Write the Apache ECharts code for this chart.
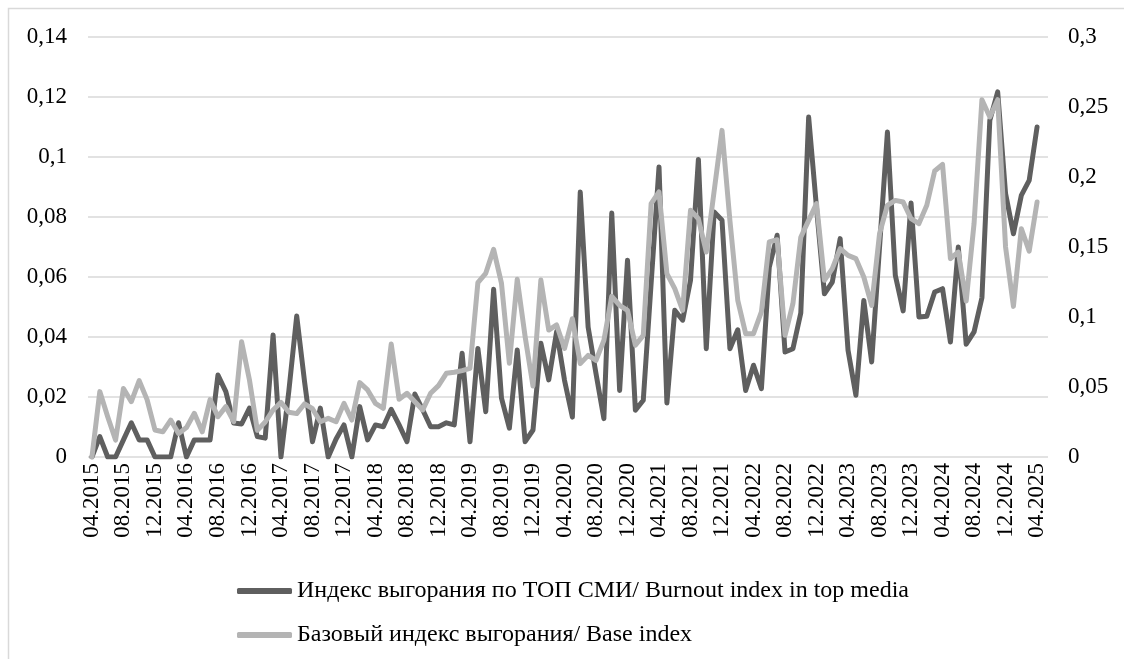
<!DOCTYPE html>
<html>
<head>
<meta charset="utf-8">
<script src="https://cdn.jsdelivr.net/npm/echarts@6/dist/echarts.min.js"></script>
<style>
html,body{margin:0;padding:0;background:#fff;}
#chart{width:1124px;height:659px;}
</style>
</head>
<body>
<div id="chart"></div>
<script>
// Months 04.2015 .. 04.2025
const categories = [];
for (let y = 2015, m = 4; y < 2025 || (y === 2025 && m <= 4); ) {
  categories.push((m < 10 ? '0' + m : '' + m) + '.' + y);
  m++; if (m > 12) { m = 1; y++; }
}

const seriesNames = [
  'Индекс выгорания по ТОП СМИ/ Burnout index in top media',
  'Базовый индекс выгорания/ Base index'
];

// Burnout index in top media (left axis)
const topMedia = [
  0, 0.0068, 0, 0, 0.0057, 0.0114, 0.0057, 0.0057, 0, 0,
  0, 0.0114, 0, 0.0057, 0.0057, 0.0057, 0.0273, 0.0218, 0.0113, 0.011,
  0.0163, 0.0068, 0.0063, 0.0407, 0, 0.022, 0.047, 0.025, 0.0051, 0.0163,
  0, 0.006, 0.0107, 0, 0.0168, 0.0057, 0.0107, 0.0101, 0.0159, 0.0107,
  0.0051, 0.021, 0.0157, 0.0101, 0.0101, 0.0114, 0.0107, 0.0346, 0.0051, 0.0362,
  0.0151, 0.0559, 0.0196, 0.0096, 0.0357, 0.0051, 0.009, 0.0379, 0.0257, 0.0418,
  0.0256, 0.0133, 0.0883, 0.0433, 0.0278, 0.0128, 0.0813, 0.0222, 0.0656, 0.0156,
  0.0189, 0.058, 0.0967, 0.018, 0.0489, 0.0456, 0.0589, 0.0992, 0.0361, 0.0817,
  0.0789, 0.0361, 0.0424, 0.0222, 0.0306, 0.0228, 0.0633, 0.0739, 0.035, 0.0361,
  0.048, 0.1133, 0.083, 0.0544, 0.0583, 0.0728, 0.0356, 0.0206, 0.0522, 0.0317,
  0.07, 0.1083, 0.0606, 0.0487, 0.0847, 0.0467, 0.0469, 0.055, 0.0561, 0.0383,
  0.07, 0.0376, 0.0417, 0.0531, 0.1122, 0.1217, 0.0878, 0.0744, 0.0872, 0.0922,
  0.11
];

// Base burnout index (right axis)
const baseIndex = [
  0, 0.0467, 0.0288, 0.0121, 0.049, 0.0395, 0.0545, 0.041, 0.0193, 0.018,
  0.0264, 0.0167, 0.021, 0.0312, 0.018, 0.041, 0.0288, 0.036, 0.0252, 0.0824,
  0.055, 0.019, 0.025, 0.0336, 0.039, 0.032, 0.031, 0.038, 0.0345, 0.0252,
  0.0276, 0.0252, 0.0383, 0.0264, 0.0531, 0.0479, 0.0383, 0.0348, 0.0807, 0.0412,
  0.0455, 0.0395, 0.0336, 0.0455, 0.051, 0.0598, 0.0605, 0.0617, 0.0633, 0.1245,
  0.1312, 0.1483, 0.124, 0.0669, 0.1269, 0.086, 0.0507, 0.1264, 0.0907, 0.0943,
  0.0775, 0.0988, 0.0667, 0.0726, 0.069, 0.0833, 0.1148, 0.1083, 0.1048, 0.0798,
  0.0869, 0.181, 0.1893, 0.131, 0.1202, 0.1048, 0.1762, 0.1702, 0.1464, 0.19,
  0.2333, 0.169, 0.1119, 0.0881, 0.0881, 0.1036, 0.1536, 0.1552, 0.0869, 0.1095,
  0.157, 0.169, 0.181, 0.1262, 0.1345, 0.1488, 0.144, 0.1417, 0.1286, 0.1083,
  0.1595, 0.1798, 0.1833, 0.1821, 0.1702, 0.1667, 0.1798, 0.2043, 0.209, 0.1417,
  0.1464, 0.1114, 0.1667, 0.2552, 0.2429, 0.2552, 0.15, 0.1076, 0.1631, 0.1471,
  0.1821
];

const leftTicks = { min: 0, max: 0.14, interval: 0.02 };
const rightTicks = { min: 0, max: 0.3, interval: 0.05 };

const FONT = '"Liberation Serif", "Times New Roman", serif';
const fmt = v => String(+(+v).toFixed(3)).replace('.', ',');

const chart = echarts.init(document.getElementById('chart'), null, { renderer: 'canvas' });
chart.setOption({
  animation: false,
  backgroundColor: '#fff',
  graphic: [{
    type: 'rect', silent: true,
    shape: { x: 8.5, y: 8.5, width: 1300, height: 900 },
    style: { fill: 'none', stroke: '#d9d9d9', lineWidth: 1.5 }
  }],
  grid: [
    { left: 88, top: 37, width: 953, height: 420, containLabel: false },
    { left: 88, top: 37, width: 960, height: 420, containLabel: false }
  ],
  legend: {
    orient: 'vertical', left: 232, top: 574, itemGap: 20,
    itemWidth: 55, itemHeight: 6, icon: 'roundRect',
    textStyle: { fontFamily: FONT, fontSize: 24, color: '#000' },
    data: seriesNames
  },
  xAxis: [
    {
      type: 'category', gridIndex: 0, data: categories, boundaryGap: true,
      axisLine: { show: false }, axisTick: { show: false },
      axisLabel: { rotate: 90, interval: 3, margin: 6, fontFamily: FONT, fontSize: 23, color: '#000' }
    },
    { type: 'value', gridIndex: 1, show: false, min: 0, max: 1 }
  ],
  yAxis: [
    {
      type: 'value', gridIndex: 0, min: leftTicks.min, max: leftTicks.max, interval: leftTicks.interval,
      axisLine: { show: false }, axisTick: { show: false }, splitLine: { show: false },
      axisLabel: { margin: 21, formatter: fmt, fontFamily: FONT, fontSize: 23, color: '#000' }
    },
    {
      type: 'value', gridIndex: 0, position: 'right', min: rightTicks.min, max: rightTicks.max, interval: rightTicks.interval,
      axisLine: { show: false }, axisTick: { show: false }, splitLine: { show: false },
      axisLabel: { margin: 27, formatter: fmt, fontFamily: FONT, fontSize: 23, color: '#000' }
    },
    {
      type: 'value', gridIndex: 1, min: leftTicks.min, max: leftTicks.max, interval: leftTicks.interval,
      axisLine: { show: false }, axisTick: { show: false }, axisLabel: { show: false },
      splitLine: { show: true, lineStyle: { color: '#d9d9d9', width: 1.5 } }
    }
  ],
  series: [
    {
      name: seriesNames[0], type: 'line', xAxisIndex: 0, yAxisIndex: 0, data: topMedia,
      showSymbol: false, symbol: 'none', color: '#5f5f5f',
      lineStyle: { width: 5, color: '#5f5f5f', cap: 'round', join: 'round' }
    },
    {
      name: seriesNames[1], type: 'line', xAxisIndex: 0, yAxisIndex: 1, data: baseIndex,
      showSymbol: false, symbol: 'none', color: '#b4b4b4',
      lineStyle: { width: 5, color: '#b4b4b4', cap: 'round', join: 'round' }
    }
  ]
});
</script>
</body>
</html>
